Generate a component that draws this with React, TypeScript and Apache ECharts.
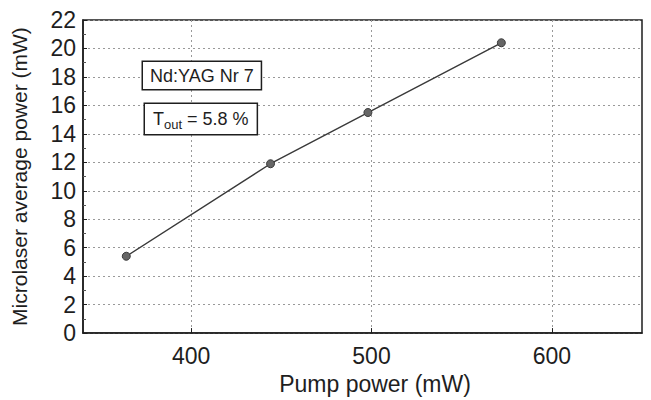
import React, { useEffect, useRef } from "react";
import * as echarts from "echarts";

const pumpPower = [364, 444, 498, 572];
const laserPower = [5.4, 11.9, 15.5, 20.4];
const xTicks = [400, 500, 600];
const xLabel = "Pump power (mW)";
const yLabel = "Microlaser average power (mW)";
const crystalLabel = "Nd:YAG Nr 7";

export default function App() {
  const ref = useRef<HTMLDivElement>(null);
  useEffect(() => {
    const chart = echarts.init(ref.current!, undefined, { renderer: "svg" });
    const font = "'Liberation Sans', Arial, Helvetica, sans-serif";
    const ink = "#1e1e1e";
    chart.setOption({
      animation: false,
      backgroundColor: "#fff",
      textStyle: { fontFamily: font },
      grid: {
        left: 83,
        top: 20,
        right: 9,
        bottom: 62,
        show: true,
        borderColor: ink,
        borderWidth: 1.5,
        backgroundColor: "transparent",
      },
      xAxis: {
        type: "value",
        min: 340,
        max: 650,
        name: xLabel,
        nameLocation: "middle",
        nameGap: 38,
        nameTextStyle: { fontSize: 23, color: ink, fontFamily: font, padding: [0, 0, 0, 25] },
        axisLine: { show: true, lineStyle: { color: ink, width: 1.5 } },
        axisTick: { show: true, inside: true, length: 5, lineStyle: { color: ink }, customValues: xTicks },
        axisLabel: {
          fontSize: 23,
          color: ink,
          margin: 11,
          fontFamily: font,
          customValues: xTicks,
        },
        splitLine: { show: true, lineStyle: { color: "#999", type: [2, 3], width: 1 } },
      },
      yAxis: {
        type: "value",
        min: 0,
        max: 22,
        interval: 2,
        name: yLabel,
        nameLocation: "middle",
        nameGap: 53,
        nameTextStyle: { fontSize: 21, color: ink, fontFamily: font },
        axisLine: { show: true, lineStyle: { color: ink, width: 1.5 } },
        axisTick: { show: true, inside: true, length: 4, lineStyle: { color: ink } },
        minorTick: { show: true, splitNumber: 2, length: 3, lineStyle: { color: "#555" } },
        axisLabel: { fontSize: 23, color: ink, margin: 7, fontFamily: font },
        splitLine: { show: true, lineStyle: { color: "#999", type: [2, 3], width: 1 } },
      },
      series: [
        {
          type: "line",
          data: pumpPower.map((x, i) => [x, laserPower[i]]),
          symbol: "circle",
          symbolSize: 8,
          lineStyle: { color: "#3a3a3a", width: 1.4 },
          itemStyle: { color: "#666", borderColor: "#3a3a3a", borderWidth: 1 },
        },
      ],
      graphic: [
        {
          type: "text",
          x: 143,
          y: 62,
          z: 100,
          style: {
            text: crystalLabel,
            fontSize: 18,
            fontFamily: font,
            fill: ink,
            backgroundColor: "#fff",
            borderColor: ink,
            borderWidth: 1.5,
            padding: [5, 7, 4, 7],
          },
        },
        {
          type: "text",
          x: 145,
          y: 104,
          z: 100,
          style: {
            text: "{m|T}{s|out}{m| = 5.8 %}",
            fontFamily: font,
            fill: ink,
            backgroundColor: "#fff",
            borderColor: ink,
            borderWidth: 1.5,
            padding: [3, 8, 3, 8],
            rich: {
              m: { fontSize: 18, fontFamily: font, fill: ink, color: ink, verticalAlign: "middle", height: 24 },
              s: { fontSize: 13, fontFamily: font, fill: ink, color: ink, verticalAlign: "bottom", padding: [9, 0, 0, 0] },
            },
          },
        },
      ],
    });
    return () => chart.dispose();
  }, []);
  return <div ref={ref} style={{ width: 651, height: 400, position: "absolute", left: 0, top: 0 }} />;
}
